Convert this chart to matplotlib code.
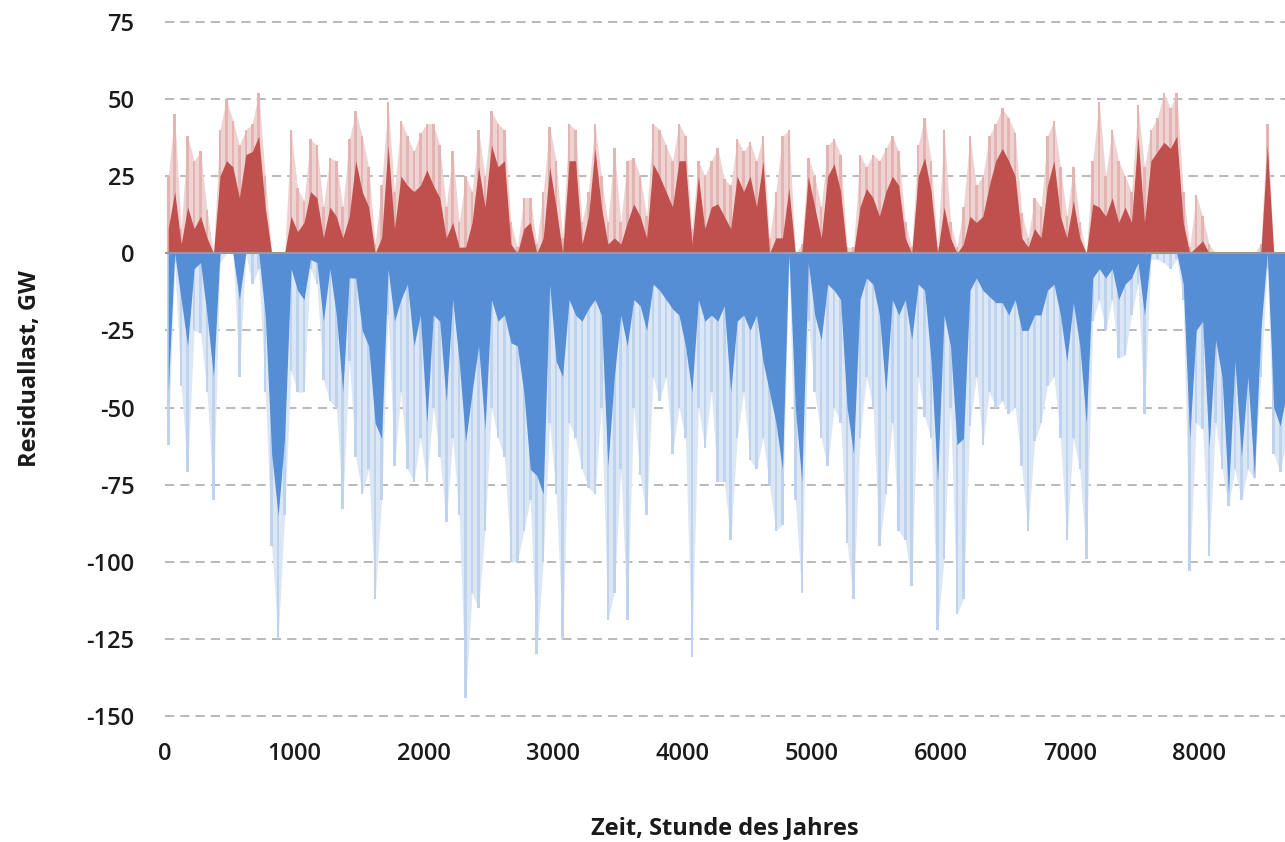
import numpy as np
import matplotlib.pyplot as plt

plt.rcParams['axes.unicode_minus'] = False

# residual load in 50 hour blocks (GW)
bin_hours = 50
pos_core = [8, 20, 3, 15, 8, 12, 5, 0, 25, 30, 28, 18, 32, 33, 38, 15, 0, 0, 0, 12,
            7, 10, 20, 18, 5, 15, 12, 5, 12, 30, 20, 15, 0, 5, 35, 8, 25, 22, 20, 22,
            27, 22, 18, 5, 10, 2, 2, 10, 28, 15, 35, 28, 30, 3, 0, 8, 10, 0, 5, 28,
            15, 0, 30, 30, 3, 12, 34, 15, 3, 5, 3, 10, 16, 12, 5, 29, 25, 20, 15, 30,
            30, 3, 25, 8, 15, 16, 12, 8, 25, 20, 25, 15, 30, 0, 5, 5, 21, 0, 0, 25,
            15, 5, 25, 29, 20, 0, 0, 15, 21, 18, 12, 20, 25, 22, 5, 0, 25, 31, 20, 0,
            15, 5, 0, 3, 12, 10, 12, 22, 30, 34, 30, 25, 5, 2, 8, 5, 22, 30, 12, 5,
            17, 5, 0, 16, 15, 12, 18, 10, 15, 10, 38, 10, 30, 33, 36, 34, 38, 10, 0, 2,
            4, 0, 0, 0, 0, 0, 0, 0, 0, 0, 35, 0, 0, 0]
pos_peak = [25, 45, 8, 38, 30, 33, 14, 0, 40, 50, 43, 35, 40, 42, 52, 25, 0, 0, 0, 40,
            21, 17, 37, 35, 15, 31, 30, 15, 37, 46, 38, 28, 3, 22, 49, 20, 43, 38, 33, 39,
            42, 42, 35, 15, 33, 10, 25, 20, 40, 25, 46, 42, 40, 10, 2, 18, 18, 3, 20, 41,
            30, 5, 42, 40, 10, 20, 42, 25, 10, 34, 10, 30, 31, 25, 12, 42, 40, 35, 30, 42,
            38, 8, 30, 25, 30, 34, 24, 22, 37, 33, 36, 30, 38, 5, 20, 38, 40, 0, 3, 31,
            25, 15, 35, 37, 32, 2, 2, 32, 28, 32, 30, 34, 38, 33, 10, 2, 35, 44, 30, 2,
            40, 10, 2, 15, 38, 22, 25, 38, 42, 47, 44, 39, 13, 5, 18, 15, 38, 43, 28, 12,
            28, 10, 0, 30, 49, 25, 40, 30, 25, 20, 48, 28, 40, 44, 52, 47, 52, 20, 2, 19,
            12, 3, 0, 0, 0, 0, 0, 0, 0, 3, 42, 0, 0, 0]
neg_core = [-45, 0, -15, -30, -5, -3, -20, -40, 0, 0, 0, -15, 0, 0, 0, -20, -65, -85, -60, -5,
            -12, -15, -2, -3, -22, -5, -20, -45, -8, -8, -25, -30, -55, -60, -5, -22, -15, -10, -30, -20,
            -55, -20, -22, -48, -15, -35, -61, -45, -30, -57, -15, -22, -20, -29, -30, -45, -70, -72, -78, -10,
            -35, -40, -15, -20, -22, -18, -15, -20, -69, -40, -20, -30, -15, -17, -25, -10, -12, -15, -18, -20,
            -30, -45, -15, -22, -20, -22, -17, -45, -22, -20, -25, -20, -35, -45, -55, -70, 0, -50, -74, -3,
            -20, -28, -10, -12, -15, -50, -65, -15, -8, -10, -20, -45, -15, -20, -15, -28, -10, -12, -35, -74,
            -20, -30, -62, -60, -12, -8, -12, -14, -16, -16, -20, -15, -25, -25, -20, -20, -12, -10, -20, -35,
            -16, -30, -55, -8, -5, -8, -5, -15, -10, -8, -3, -20, 0, 0, 0, 0, 0, -10, -60, -25,
            -22, -63, -28, -40, -78, -35, -66, -40, -72, -25, 0, -50, -56, -45]
neg_peak = [-62, -3, -43, -71, -25, -26, -45, -80, -3, 0, 0, -40, 0, -10, -5, -45, -95, -125, -85, -38,
            -45, -45, -5, -10, -41, -48, -50, -83, -35, -66, -78, -70, -112, -80, -20, -69, -45, -70, -74, -60,
            -74, -50, -66, -87, -60, -85, -144, -110, -115, -90, -50, -60, -66, -100, -100, -90, -80, -130, -100, -55,
            -78, -125, -55, -60, -70, -76, -78, -50, -119, -110, -70, -119, -50, -72, -85, -40, -48, -40, -65, -50,
            -60, -131, -50, -63, -45, -74, -74, -93, -60, -45, -67, -70, -60, -75, -90, -88, -3, -80, -110, -22,
            -45, -60, -69, -50, -55, -94, -112, -60, -40, -50, -95, -78, -55, -90, -93, -108, -40, -53, -60, -122,
            -99, -50, -117, -112, -56, -40, -62, -45, -50, -48, -52, -50, -69, -90, -61, -55, -43, -40, -60, -93,
            -60, -70, -99, -22, -15, -25, -15, -34, -33, -20, -10, -52, -2, -2, -3, -5, -2, -15, -103, -55,
            -57, -98, -55, -70, -82, -70, -80, -70, -73, -40, -5, -65, -71, -60]

x_ticks = [0, 1000, 2000, 3000, 4000, 5000, 6000, 7000, 8000]
y_ticks = [75, 50, 25, 0, -25, -50, -75, -100, -125, -150]

red = '#c0504d'
red_haze = '#efd3d2'
red_light = '#e3b4b2'
blue = '#558ed5'
blue_haze = '#dce7f6'
blue_light = '#bfd3ef'

hours = np.arange(len(pos_core)) * bin_hours + bin_hours / 2

fig = plt.figure(figsize=(12.85, 8.42), dpi=100)
ax = fig.add_axes([0.1284, 0.1423, 0.8716, 0.839])

# faint haze under the spikes, thin spikes, then the dense core
ax.fill_between(hours, 0, pos_peak, color=red_haze, linewidth=0)
ax.fill_between(hours, 0, neg_peak, color=blue_haze, linewidth=0)
ax.bar(hours, pos_peak, width=20, color=red_light, linewidth=0)
ax.bar(hours, neg_peak, width=20, color=blue_light, linewidth=0)
ax.fill_between(hours, 0, pos_core, color=red, linewidth=0)
ax.fill_between(hours, 0, neg_core, color=blue, linewidth=0)

ax.axhline(0, color='#9a9a9a', linewidth=1.5, zorder=3)

ax.set_xlim(0, 8662)
ax.set_ylim(-152, 77)
ax.set_xticks(x_ticks)
ax.set_yticks(y_ticks)
ax.yaxis.grid(True, linestyle=(0, (6, 4)), color='#a6a6a6', linewidth=1.1)
ax.set_axisbelow(True)
for s in ax.spines.values():
    s.set_visible(False)
ax.tick_params(length=0, labelsize=17, colors='#1a1a1a')
ax.tick_params(axis='y', pad=22)
ax.tick_params(axis='x', pad=14)
for lab in ax.get_xticklabels() + ax.get_yticklabels():
    lab.set_fontfamily('Open Sans')
    lab.set_fontweight('semibold')

ax.set_ylabel('Residuallast, GW', fontsize=17, fontweight='bold', family='Open Sans',
              color='#1a1a1a', labelpad=32)
ax.set_xlabel('Zeit, Stunde des Jahres', fontsize=17, fontweight='bold', family='Open Sans',
              color='#1a1a1a', labelpad=36)

plt.savefig('out.png')
